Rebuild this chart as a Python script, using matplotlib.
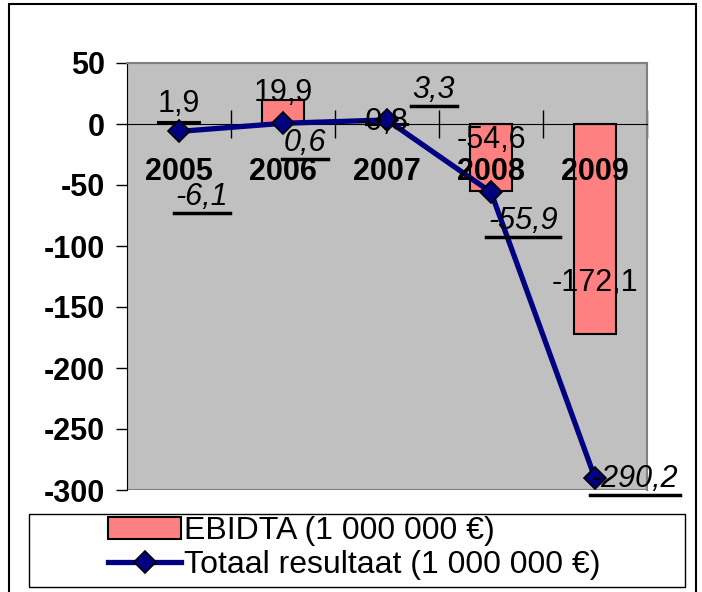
import numpy as np
import matplotlib
matplotlib.use("Agg")
import matplotlib.pyplot as plt
from matplotlib.patches import Rectangle
from matplotlib.lines import Line2D

plt.rcParams['font.family'] = ['Liberation Sans', 'DejaVu Sans']

years = ['2005', '2006', '2007', '2008', '2009']
ebidta = [1.9, 19.9, -0.8, -54.6, -172.1]
totaal = [-6.1, 0.6, 3.3, -55.9, -290.2]
ebidta_txt = ['1,9', '19,9', '-0,8', '-54,6', '-172,1']
totaal_txt = ['-6,1', '0,6', '3,3', '-55,9', '-290,2']

# label offsets in pixels (Excel placed them a bit randomly)
bar_off = [(0, 18), (0, 7), (-5, 3), (0, 51), (0, 51)]
line_off = [(23, -66), (22, -20), (47, 30), (32, -29), (40, -1)]

W, H = 702, 592
fig = plt.figure(figsize=(W / 100, H / 100), dpi=100)
ax = fig.add_axes([127 / W, 1 - 490 / H, 520 / W, 427 / H])
ax.set_facecolor('#C0C0C0')

x = np.arange(len(years))
bars = ax.bar(x, ebidta, width=0.4, color='#FF8080', edgecolor='black',
              linewidth=1.5, label='EBIDTA (1 000 000 €)', zorder=2)
line, = ax.plot(x, totaal, color='#000080', lw=3.8, marker='D', ms=11,
                mfc='#000080', mec='black', mew=1.2,
                label='Totaal resultaat (1 000 000 €)', zorder=4)

ax.set_xlim(-0.5, len(years) - 0.5)
ax.set_ylim(-300, 50)
ax.set_yticks(np.arange(-300, 51, 50))
ax.set_yticklabels([str(v) for v in range(-300, 51, 50)], fontsize=22,
                   fontweight='bold')
ax.tick_params(axis='y', direction='out', length=8, width=1, pad=8)

# category axis sits on zero
ax.spines['bottom'].set_position(('data', 0))
ax.spines['bottom'].set_zorder(3)
ax.set_xticks(x[:-1] + 0.5)
ax.set_xticks([len(years) - 0.5], minor=True)
ax.set_xticklabels([])
ax.tick_params(axis='x', which='both', direction='inout', length=20, width=1,
               labelbottom=False)
for s in ['top', 'right']:
    ax.spines[s].set_color('#808080')
    ax.spines[s].set_linewidth(1.5)
ax.spines['left'].set_color('black')
ax.add_patch(Rectangle((0, 0), 1, 1, transform=ax.transAxes, fill=False,
                       edgecolor='#808080', lw=1.5, zorder=1))

for i, yr in enumerate(years):
    ax.annotate(yr, (i, 0), xytext=(0, -48), textcoords='offset pixels',
                ha='center', va='center', fontsize=22, fontweight='bold',
                zorder=5)

for i, t in enumerate(ebidta_txt):
    ax.annotate(t, (i, ebidta[i]), xytext=bar_off[i], textcoords='offset pixels',
                ha='center', va='center', fontsize=22, zorder=5)

line_labels = []
for i, t in enumerate(totaal_txt):
    a = ax.annotate(t, (i, totaal[i]), xytext=line_off[i],
                    textcoords='offset pixels', ha='center', va='center',
                    fontsize=22, fontstyle='italic', zorder=5,
                    annotation_clip=False)
    line_labels.append(a)

# outer frame and legend box
fig.add_artist(Rectangle((9 / W, -0.05), 687 / W, 1 - 4 / H + 0.05,
                         transform=fig.transFigure, fill=False,
                         edgecolor='black', lw=1.5))
fig.add_artist(Rectangle((29 / W, 1 - 587 / H), 656 / W, 73 / H,
                         transform=fig.transFigure, fill=True, facecolor='white',
                         edgecolor='black', lw=1))
fig.legend([bars, line], [bars.get_label(), line.get_label()],
           loc='upper left', bbox_to_anchor=(108 / W, 1 - 516 / H),
           frameon=False, fontsize=23, handlelength=2.3, handletextpad=0.08,
           labelspacing=0.12, borderpad=0, borderaxespad=0)

# underline the line labels
fig.canvas.draw()
r = fig.canvas.get_renderer()
for a in line_labels:
    bb = a.get_window_extent(r)
    yl = bb.y0 - 1
    fig.add_artist(Line2D([(bb.x0 - 2) / W, (bb.x1 + 2) / W], [yl / H, yl / H],
                          transform=fig.transFigure, color='black', lw=2.5,
                          zorder=6))

fig.savefig('out.png', dpi=100)
